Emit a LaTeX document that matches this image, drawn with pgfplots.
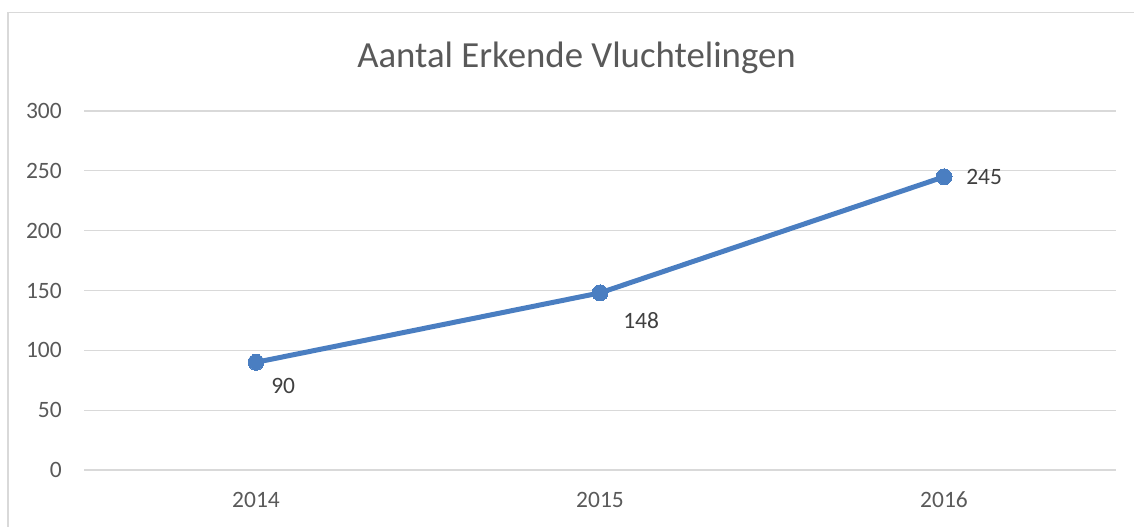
\documentclass[border=0pt]{standalone}
\usepackage{pgfplots}
\pgfplotsset{compat=1.18}
\usepackage{fontspec}
\setmainfont{Carlito}
\definecolor{lineblue}{RGB}{74,126,193}
\definecolor{gridgray}{RGB}{217,217,217}
\definecolor{txtgray}{RGB}{89,89,89}
\definecolor{lblgray}{RGB}{64,64,64}
\begin{document}
\begin{tikzpicture}
\useasboundingbox (0pt,0pt) rectangle (850.5pt,395.25pt);
\draw[gridgray, line width=1pt] (6pt,-10pt) -- (6pt,385.9pt) -- (860pt,385.9pt);
\node[anchor=base, text=txtgray, font=\fontsize{27.6}{32}\selectfont, inner sep=0pt] at (432.4pt,344.25pt) {Aantal Erkende Vluchtelingen};
\begin{axis}[
  at={(63pt,42.75pt)}, anchor=south west,
  scale only axis, width=774pt, height=269.25pt,
  xmin=-0.5, xmax=2.5, ymin=0, ymax=300,
  ytick={0,50,...,300},
  xtick={0,1,2}, xticklabels={2014,2015,2016},
  /pgf/number format/assume math mode=true,
  axis line style={draw=none},
  major tick length=0pt,
  ymajorgrids,
  grid style={gridgray, line width=0.9pt},
  ticklabel style={font=\fontsize{17.6}{20}\selectfont, text=txtgray, inner sep=0pt},
  yticklabel style={anchor=east, xshift=-16.5pt},
  xticklabel style={anchor=center, yshift=-22.5pt},
  clip=false,
]
\addplot[lineblue, line width=3.75pt, mark=*, mark size=6pt, mark options={fill=lineblue, draw=none, line width=0pt, scale=1}] coordinates {(0,90) (1,148) (2,245)};
\node[anchor=west, inner sep=0pt, text=lblgray, font=\fontsize{17.6}{20}\selectfont, xshift=11.25pt, yshift=-18pt] at (axis cs:0,90) {90};
\node[anchor=west, inner sep=0pt, text=lblgray, font=\fontsize{17.6}{20}\selectfont, xshift=17.25pt, yshift=-20.5pt] at (axis cs:1,148) {148};
\node[anchor=west, inner sep=0pt, text=lblgray, font=\fontsize{17.6}{20}\selectfont, xshift=16.5pt, yshift=0pt] at (axis cs:2,245) {245};
\end{axis}
\end{tikzpicture}
\end{document}
